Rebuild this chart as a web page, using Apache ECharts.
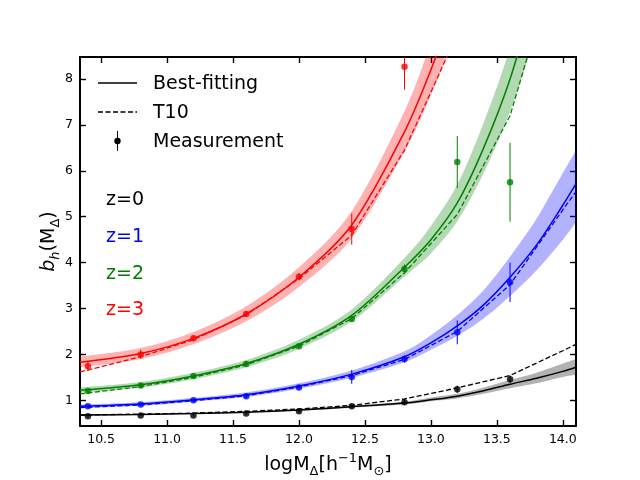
<!DOCTYPE html>
<html><head><meta charset="utf-8">
<script src="https://cdn.jsdelivr.net/npm/echarts@6/dist/echarts.min.js"></script>
<style>html,body{margin:0;padding:0;background:#fff}#c{width:640px;height:480px}</style>
</head><body><div id="c"></div>
<script>
// ---- tick labels ----
const xTicks = [10.5, 11.0, 11.5, 12.0, 12.5, 13.0, 13.5, 14.0];
const yTicks = [1, 2, 3, 4, 5, 6, 7, 8];

// ---- measurements (log mass, bias, error) ----
const measMass = [10.4, 10.8, 11.2, 11.6, 12.0, 12.4, 12.8, 13.2, 13.6];
const measZ0 = [0.65, 0.67, 0.67, 0.71, 0.76, 0.87, 0.96, 1.24, 1.46];
const errZ0  = [0.02, 0.02, 0.02, 0.02, 0.03, 0.03, 0.05, 0.08, 0.08];
const measZ1 = [0.87, 0.91, 1.00, 1.09, 1.28, 1.51, 1.90, 2.48, 3.57];
const errZ1  = [0.03, 0.03, 0.03, 0.05, 0.05, 0.15, 0.08, 0.26, 0.43];
const measZ2 = [1.20, 1.32, 1.53, 1.79, 2.18, 2.77, 3.86, 6.19, 5.75];
const errZ2  = [0.05, 0.05, 0.04, 0.05, 0.06, 0.06, 0.10, 0.57, 0.86];
const measMassZ3 = [10.4, 10.8, 11.2, 11.6, 12.0, 12.4, 12.8];
const measZ3 = [1.74, 2.00, 2.35, 2.88, 3.69, 4.73, 8.27];
const errZ3  = [0.10, 0.10, 0.06, 0.06, 0.08, 0.34, 0.50];

// ---- best-fitting curves and their bands ----
const fitMass = [10.34, 10.8, 11.2, 11.6, 12.0, 12.4, 12.8, 13.0, 13.2, 13.4, 13.6, 13.8, 14.0, 14.1];
const fitZ0   = [0.68, 0.69, 0.71, 0.74, 0.79, 0.86, 0.94, 1.01, 1.09, 1.21, 1.35, 1.48, 1.63, 1.72];
const fitZ0Lo = [0.67, 0.68, 0.70, 0.73, 0.77, 0.84, 0.91, 0.98, 1.04, 1.14, 1.26, 1.37, 1.51, 1.55];
const fitZ0Hi = [0.69, 0.70, 0.72, 0.75, 0.81, 0.88, 0.97, 1.06, 1.14, 1.28, 1.44, 1.60, 1.80, 1.90];
const fitZ1   = [0.87, 0.92, 1.01, 1.12, 1.31, 1.57, 1.95, 2.25, 2.62, 3.08, 3.68, 4.38, 5.25, 5.72];
const fitZ1Lo = [0.83, 0.88, 0.97, 1.07, 1.25, 1.49, 1.83, 2.10, 2.40, 2.78, 3.27, 3.83, 4.50, 4.88];
const fitZ1Hi = [0.91, 0.96, 1.05, 1.17, 1.37, 1.65, 2.07, 2.42, 2.86, 3.40, 4.13, 4.95, 5.95, 6.45];
const fitMassZ2 = [10.34, 10.8, 11.2, 11.6, 12.0, 12.4, 12.8, 13.0, 13.2, 13.4, 13.6, 13.8];
const fitZ2   = [1.22, 1.34, 1.53, 1.80, 2.22, 2.85, 3.90, 4.50, 5.30, 6.50, 8.00, 10.0];
const fitZ2Lo = [1.16, 1.28, 1.46, 1.72, 2.12, 2.72, 3.70, 4.20, 4.90, 5.95, 7.30, 9.00];
const fitZ2Hi = [1.28, 1.40, 1.60, 1.88, 2.32, 2.98, 4.10, 4.80, 5.70, 7.05, 8.70, 11.0];
const fitMassZ3 = [10.34, 10.8, 11.2, 11.6, 12.0, 12.4, 12.8, 13.0, 13.2, 13.4];
const fitZ3   = [1.83, 2.02, 2.35, 2.88, 3.68, 4.82, 6.85, 8.20, 9.80, 11.6];
const fitZ3Lo = [1.72, 1.90, 2.22, 2.72, 3.47, 4.53, 6.42, 7.65, 9.10, 10.8];
const fitZ3Hi = [1.95, 2.14, 2.49, 3.05, 3.90, 5.12, 7.30, 8.80, 10.5, 12.5];

// ---- T10 (dashed) ----
const t10Mass = [10.34, 10.4, 10.8, 11.2, 11.6, 12.0, 12.4, 12.8, 13.2, 13.6, 14.0, 14.1];
const t10Z0 = [0.68, 0.68, 0.70, 0.72, 0.76, 0.81, 0.89, 1.03, 1.27, 1.54, 2.08, 2.22];
const t10Z1 = [0.84, 0.85, 0.90, 0.99, 1.10, 1.29, 1.54, 1.89, 2.50, 3.52, 5.15, 5.55];
const t10MassZ2 = [10.34, 10.4, 10.8, 11.2, 11.6, 12.0, 12.4, 12.8, 13.2, 13.6, 14.0];
const t10Z2 = [1.14, 1.16, 1.30, 1.50, 1.77, 2.18, 2.78, 3.78, 5.05, 7.20, 11.1];
const t10MassZ3 = [10.34, 10.4, 10.8, 11.2, 11.6, 12.0, 12.4, 12.8, 13.2];
const t10Z3 = [1.62, 1.66, 1.95, 2.32, 2.86, 3.65, 4.60, 6.45, 8.98];

const FONT = 'DejaVu Sans';
const COLORS = ['#000000', '#0000ff', '#008000', '#ff0000'];

const pairs = (xs, ys) => xs.map((x, i) => [x, ys[i]]);
const triples = (xs, ys, es) => xs.map((x, i) => [x, ys[i], es[i]]);

// cubic path through pixel points (rendering helper only)
function curvePath(pts, start) {
  let d = (start ? 'M' : 'L') + pts[0][0] + ',' + pts[0][1];
  const t = 0.3;
  for (let i = 0; i < pts.length - 1; i++) {
    const p0 = pts[Math.max(0, i - 1)], p1 = pts[i], p2 = pts[i + 1], p3 = pts[Math.min(pts.length - 1, i + 2)];
    const c1x = p1[0] + (p2[0] - p0[0]) * t / 2;
    const c1y = p1[1] + (p2[1] - p0[1]) * t / 2;
    const c2x = p2[0] - (p3[0] - p1[0]) * t / 2;
    const c2y = p2[1] - (p3[1] - p1[1]) * t / 2;
    d += ' C' + c1x + ',' + c1y + ' ' + c2x + ',' + c2y + ' ' + p2[0] + ',' + p2[1];
  }
  return d;
}

function bandSeries(xs, lo, hi, color) {
  return { type: 'custom', data: xs.map((x, i) => [x, lo[i], hi[i]]), clip: true, z: 1, silent: true,
    encode: { x: 0, y: [1, 2] },
    renderItem: function (params, api) {
      if (params.dataIndex !== 0) return null;
      const up = xs.map((x, i) => api.coord([x, hi[i]]));
      const dn = xs.map((x, i) => api.coord([x, lo[i]])).reverse();
      const d = curvePath(up, true) + ' ' + curvePath(dn, false) + ' Z';
      return { type: 'path', shape: { pathData: d }, style: { fill: color, opacity: 0.3 } };
    } };
}
function fitSeries(xs, ys, color) {
  return { type: 'line', data: pairs(xs, ys), symbol: 'none', smooth: 0.3, clip: true,
    lineStyle: { color: color, width: 1.5 }, z: 3, silent: true };
}
function t10Series(xs, ys, color) {
  return { type: 'line', data: pairs(xs, ys), symbol: 'none', smooth: false, clip: true,
    lineStyle: { color: color, width: 1.3, type: [5, 2.5] }, z: 3, silent: true };
}
function errSeries(xs, ys, es, color) {
  return { type: 'custom', data: triples(xs, ys, es), clip: true, z: 4, silent: true,
    encode: { x: 0, y: 1 },
    renderItem: function (params, api) {
      const x = api.value(0), y = api.value(1), e = api.value(2);
      const p1 = api.coord([x, y - e]), p2 = api.coord([x, y + e]);
      return { type: 'line', shape: { x1: p1[0], y1: p1[1], x2: p2[0], y2: p2[1] },
        style: { stroke: color, lineWidth: 1 } };
    } };
}
function pointSeries(xs, ys, color) {
  return { type: 'scatter', data: pairs(xs, ys), symbol: 'circle', symbolSize: 6.5, clip: true,
    itemStyle: { color: color }, z: 5, silent: true };
}

const series = [
  bandSeries(fitMass, fitZ0Lo, fitZ0Hi, COLORS[0]),
  bandSeries(fitMass, fitZ1Lo, fitZ1Hi, COLORS[1]),
  bandSeries(fitMassZ2, fitZ2Lo, fitZ2Hi, COLORS[2]),
  bandSeries(fitMassZ3, fitZ3Lo, fitZ3Hi, COLORS[3]),
  fitSeries(fitMass, fitZ0, COLORS[0]), fitSeries(fitMass, fitZ1, COLORS[1]),
  fitSeries(fitMassZ2, fitZ2, COLORS[2]), fitSeries(fitMassZ3, fitZ3, COLORS[3]),
  t10Series(t10Mass, t10Z0, COLORS[0]), t10Series(t10Mass, t10Z1, COLORS[1]),
  t10Series(t10MassZ2, t10Z2, COLORS[2]), t10Series(t10MassZ3, t10Z3, COLORS[3]),
  errSeries(measMass, measZ0, errZ0, COLORS[0]), errSeries(measMass, measZ1, errZ1, COLORS[1]),
  errSeries(measMass, measZ2, errZ2, COLORS[2]), errSeries(measMassZ3, measZ3, errZ3, COLORS[3]),
  pointSeries(measMass, measZ0, COLORS[0]), pointSeries(measMass, measZ1, COLORS[1]),
  pointSeries(measMass, measZ2, COLORS[2]), pointSeries(measMassZ3, measZ3, COLORS[3])
];

const XMIN = 10.34, XMAX = 14.1, YMIN = 0.44, YMAX = 8.48;
const axisLine = { show: true, onZero: false, lineStyle: { color: '#000', width: 2 } };
const tickX = { show: true, inside: true, length: 6, lineStyle: { color: '#000', width: 1.4 }, customValues: xTicks };
const tickY = { show: true, inside: true, length: 6, lineStyle: { color: '#000', width: 1.4 }, customValues: yTicks };
const labelStyle = { color: '#000', fontFamily: FONT, fontSize: 12.5 };

const option = {
  animation: false,
  backgroundColor: '#fff',
  grid: { left: 80, right: 64, top: 57, bottom: 54, containLabel: false, outerBoundsMode: 'none' },
  xAxis: [
    { type: 'value', min: XMIN, max: XMAX, position: 'bottom', axisLine: axisLine, axisTick: tickX,
      splitLine: { show: false },
      axisLabel: Object.assign({ customValues: xTicks, margin: 7, formatter: v => v.toFixed(1) }, labelStyle),
      name: 'logM{s|Δ}[h{p|−1}M{s|⊙}]', nameLocation: 'middle', nameGap: 26, nameMoveOverlap: false,
      nameTextStyle: { color: '#000', fontFamily: FONT, fontSize: 19, lineHeight: 26,
        rich: { s: { fontFamily: FONT, fontSize: 13, lineHeight: 13, verticalAlign: 'bottom', color: '#000' },
                p: { fontFamily: FONT, fontSize: 13, lineHeight: 13, verticalAlign: 'top', color: '#000' } } } },
    { type: 'value', min: XMIN, max: XMAX, position: 'top', axisLine: axisLine, axisTick: tickX,
      splitLine: { show: false }, axisLabel: { show: false } }
  ],
  yAxis: [
    { type: 'value', min: YMIN, max: YMAX, position: 'left', axisLine: axisLine, axisTick: tickY,
      splitLine: { show: false },
      axisLabel: Object.assign({ customValues: yTicks, margin: 7 }, labelStyle),
      name: '{i|b}{is|h}(M{s|Δ})', nameLocation: 'middle', nameGap: 18, nameMoveOverlap: false,
      nameTextStyle: { color: '#000', fontFamily: FONT, fontSize: 19, lineHeight: 26,
        rich: { i: { fontFamily: FONT, fontSize: 19, fontStyle: 'italic', color: '#000' },
                is: { fontFamily: FONT, fontSize: 13, lineHeight: 13, fontStyle: 'italic', verticalAlign: 'bottom', color: '#000' },
                s: { fontFamily: FONT, fontSize: 13, lineHeight: 13, verticalAlign: 'bottom', color: '#000' } } } },
    { type: 'value', min: YMIN, max: YMAX, position: 'right', axisLine: axisLine, axisTick: tickY,
      splitLine: { show: false }, axisLabel: { show: false } }
  ],
  graphic: [
    { type: 'line', shape: { x1: 98, y1: 83, x2: 137, y2: 83 }, style: { stroke: '#000', lineWidth: 1.5 }, z: 10 },
    { type: 'line', shape: { x1: 98, y1: 112, x2: 137, y2: 112 }, style: { stroke: '#000', lineWidth: 1.3, lineDash: [5, 2.5] }, z: 10 },
    { type: 'line', shape: { x1: 117.5, y1: 131, x2: 117.5, y2: 151 }, style: { stroke: '#000', lineWidth: 1 }, z: 10 },
    { type: 'circle', shape: { cx: 117.5, cy: 141, r: 3.2 }, style: { fill: '#000' }, z: 10 },
    { type: 'text', x: 153, y: 84, style: { text: 'Best-fitting', font: '19px "DejaVu Sans"', fill: '#000', verticalAlign: 'middle' }, z: 10 },
    { type: 'text', x: 153, y: 113, style: { text: 'T10', font: '19px "DejaVu Sans"', fill: '#000', verticalAlign: 'middle' }, z: 10 },
    { type: 'text', x: 153, y: 142, style: { text: 'Measurement', font: '19px "DejaVu Sans"', fill: '#000', verticalAlign: 'middle' }, z: 10 },
    { type: 'text', x: 106, y: 200, style: { text: 'z=0', font: '19px "DejaVu Sans"', fill: COLORS[0], verticalAlign: 'middle' }, z: 10 },
    { type: 'text', x: 106, y: 237.5, style: { text: 'z=1', font: '19px "DejaVu Sans"', fill: COLORS[1], verticalAlign: 'middle' }, z: 10 },
    { type: 'text', x: 106, y: 274, style: { text: 'z=2', font: '19px "DejaVu Sans"', fill: COLORS[2], verticalAlign: 'middle' }, z: 10 },
    { type: 'text', x: 106, y: 310.5, style: { text: 'z=3', font: '19px "DejaVu Sans"', fill: COLORS[3], verticalAlign: 'middle' }, z: 10 }
  ],
  series: series
};

const chart = echarts.init(document.getElementById('c'), null, { renderer: 'canvas' });
chart.setOption(option);
</script>
</body></html>
